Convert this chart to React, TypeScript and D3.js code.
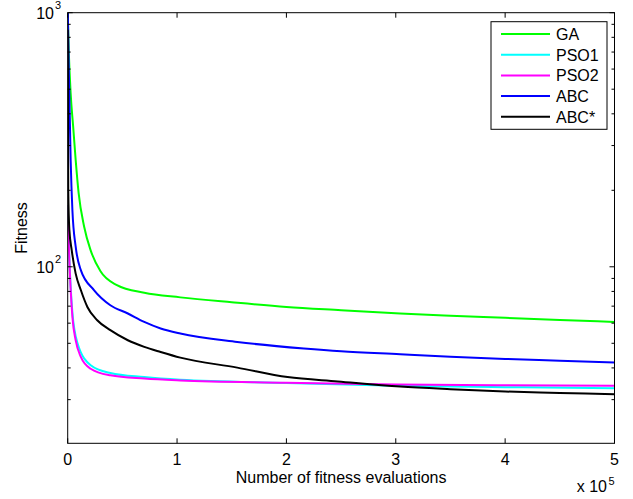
import React from "react";
import * as d3 from "d3";

// ---- data (x in units of 1e5 fitness evaluations) ----
const seriesNames = ["GA", "PSO1", "PSO2", "ABC", "ABC*"];
const seriesColors = ["#00ff00", "#00ffff", "#ff00ff", "#0000ff", "#000000"];

const gaX = [0, 0.01, 0.027, 0.05, 0.073, 0.1, 0.15, 0.21, 0.3, 0.45, 0.7, 1.03, 1.5, 2.0, 2.5, 3.04, 3.5, 4.0, 4.5, 5.0];
const gaY = [1000, 700, 482, 356, 263, 195, 144, 116, 96, 84.7, 79, 75.8, 72.5, 69.5, 67.5, 65.5, 64.2, 63.0, 61.8, 60.7];

const pso1X = [0, 0.012, 0.043, 0.09, 0.21, 0.39, 0.7, 1.03, 2.0, 3.0, 4.0, 5.0];
const pso1Y = [175, 118, 66, 50, 41, 38.2, 36.8, 35.9, 34.9, 34.0, 33.6, 33.3];

const pso2X = [0, 0.012, 0.043, 0.073, 0.12, 0.21, 0.39, 0.7, 1.03, 2.0, 3.0, 4.0, 5.0];
const pso2Y = [175, 116, 63.5, 51.4, 44.2, 39.7, 37.4, 36.3, 35.7, 35.0, 34.4, 34.2, 34.0];

const abcX = [0, 0.01, 0.027, 0.043, 0.073, 0.12, 0.24, 0.39, 0.55, 0.7, 0.85, 1.03, 1.55, 2.16, 2.5, 3.04, 3.5, 4.0, 4.5, 5.0];
const abcY = [1100, 600, 263, 167, 120, 97, 81, 70.6, 65.5, 60.7, 57.2, 54.6, 50.6, 47.7, 46.5, 45.3, 44.3, 43.4, 42.7, 42.0];

const abcStarX = [0, 0.005, 0.015, 0.037, 0.073, 0.12, 0.18, 0.27, 0.39, 0.55, 0.7, 0.85, 1.03, 1.55, 2.01, 2.47, 3.04, 3.5, 4.0, 4.5, 5.0];
const abcStarY = [857, 200, 140, 116, 94, 81, 69.5, 61.6, 56.3, 51.4, 48.4, 46.2, 43.9, 40.1, 36.8, 35.4, 33.8, 33.0, 32.3, 31.9, 31.5];

const xTicks = [0, 1, 2, 3, 4, 5];
const yMajorTicks = [100, 1000];
const yMajorExp = ["2", "3"];
const yMinorTicks = [30, 40, 50, 60, 70, 80, 90, 200, 300, 400, 500, 600, 700, 800, 900];

const allX = [gaX, pso1X, pso2X, abcX, abcStarX];
const allY = [gaY, pso1Y, pso2Y, abcY, abcStarY];

const W = 633;
const H = 499;
const L = 67.7, R = 614.5, T = 12.7, B = 443.3;
const FONT = "'Liberation Sans', Arial, Helvetica, sans-serif";

export default function App() {
  const x = d3.scaleLinear().domain([0, 5]).range([L, R]);
  const y = d3.scaleLog().domain([20.2, 1000]).range([B, T]);

  const line = d3
    .line<[number, number]>()
    .x((d) => x(d[0]))
    .y((d) => y(d[1]))
    .curve(d3.curveMonotoneX);

  const legX0 = 491, legX1 = 607, legY0 = 21.7, legY1 = 129.3;
  const rowY0 = 34, rowStep = 20.7;

  return (
    <svg
      width={W}
      height={H}
      style={{ position: "absolute", left: 0, top: 0, background: "#fff" }}
      fontFamily={FONT}
    >
      <rect x={0} y={0} width={W} height={H} fill="#fff" />
      <defs>
        <clipPath id="plotclip">
          <rect x={L} y={T} width={R - L} height={B - T} />
        </clipPath>
      </defs>

      {/* curves */}
      <g clipPath="url(#plotclip)">
        {seriesNames.map((n, i) => (
          <path
            key={n}
            d={line(allX[i].map((v, j) => [v, allY[i][j]] as [number, number])) || ""}
            fill="none"
            stroke={seriesColors[i]}
            strokeWidth={2}
            strokeLinejoin="round"
          />
        ))}
      </g>

      {/* frame */}
      <rect x={L} y={T} width={R - L} height={B - T} fill="none" stroke="#000" strokeWidth={1} />

      {/* x ticks */}
      {xTicks.map((t) => (
        <g key={"x" + t}>
          <line x1={x(t)} x2={x(t)} y1={B} y2={B - 5} stroke="#000" strokeWidth={1} />
          <line x1={x(t)} x2={x(t)} y1={T} y2={T + 5} stroke="#000" strokeWidth={1} />
          <text x={x(t)} y={465} fontSize={16} textAnchor="middle" fill="#000">
            {t}
          </text>
        </g>
      ))}

      {/* y major ticks */}
      {yMajorTicks.map((t, i) => (
        <g key={"ym" + t}>
          <line x1={L} x2={L + 5} y1={y(t)} y2={y(t)} stroke="#000" strokeWidth={1} />
          <line x1={R} x2={R - 5} y1={y(t)} y2={y(t)} stroke="#000" strokeWidth={1} />
          <text x={54} y={y(t) + 6.5} fontSize={16} textAnchor="end" fill="#000">
            10
          </text>
          <text x={55} y={y(t) - 3.5} fontSize={11} textAnchor="start" fill="#000">
            {yMajorExp[i]}
          </text>
        </g>
      ))}

      {/* y minor ticks */}
      {yMinorTicks.map((t) => (
        <g key={"yn" + t}>
          <line x1={L} x2={L + 3} y1={y(t)} y2={y(t)} stroke="#000" strokeWidth={1} />
          <line x1={R} x2={R - 3} y1={y(t)} y2={y(t)} stroke="#000" strokeWidth={1} />
        </g>
      ))}

      {/* axis labels */}
      <text x={(L + R) / 2} y={483} fontSize={16} textAnchor="middle" fill="#000">
        Number of fitness evaluations
      </text>
      <text
        transform={`translate(27,${(T + B) / 2}) rotate(-90)`}
        fontSize={16}
        textAnchor="middle"
        fill="#000"
      >
        Fitness
      </text>
      <text x={607} y={491.5} fontSize={16} textAnchor="end" fill="#000">
        x 10
      </text>
      <text x={608.5} y={485} fontSize={11} textAnchor="start" fill="#000">
        5
      </text>

      {/* legend */}
      <rect x={legX0} y={legY0} width={legX1 - legX0} height={legY1 - legY0} fill="#fff" stroke="#000" strokeWidth={1} />
      {seriesNames.map((n, i) => {
        const ry = rowY0 + i * rowStep;
        return (
          <g key={"leg" + n}>
            <line x1={501} x2={550} y1={ry} y2={ry} stroke={seriesColors[i]} strokeWidth={2} />
            <text x={556} y={ry + 5.8} fontSize={16} fill="#000">
              {n}
            </text>
          </g>
        );
      })}
    </svg>
  );
}
